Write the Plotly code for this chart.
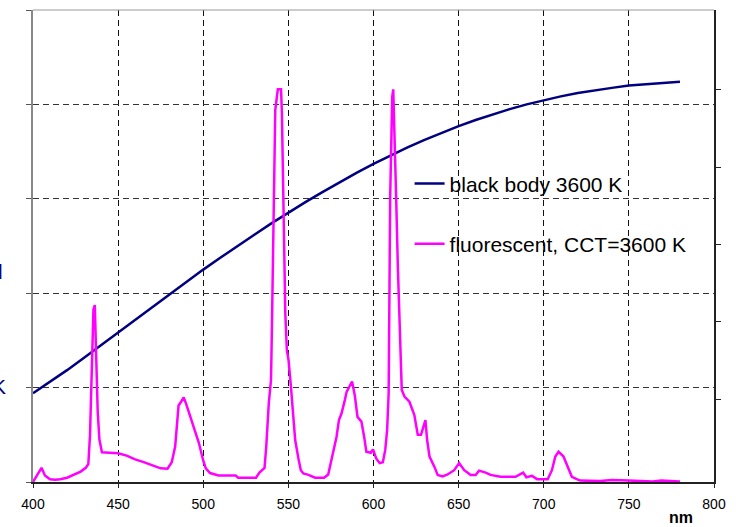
import plotly.graph_objects as go

# Wavelength grid (nm) and relative spectral power of a 3600 K black body
bb_wavelength = list(range(400, 790, 10))
bb_power = [18.8, 21.2, 23.7, 26.3, 29.0, 31.7, 34.4, 37.1, 39.8, 42.4,
            45.0, 47.5, 50.0, 52.4, 54.8, 57.1, 59.3, 61.4, 63.5, 65.5,
            67.4, 69.2, 70.9, 72.5, 74.0, 75.4, 76.7, 77.9, 79.0, 80.0,
            80.9, 81.7, 82.4, 83.0, 83.5, 84.0, 84.3, 84.6, 84.8]

# Fluorescent lamp spectrum (CCT 3600 K)
fl_wavelength = [400, 402, 405, 407, 410, 413, 416, 420, 424, 428,
                 431, 432.5, 433.5, 434.5, 435.5, 436.3, 437, 438, 439, 440.5,
                 445, 450, 455, 460, 465, 470, 475, 479, 481.5, 483.5,
                 484.5, 485.5, 487, 488.5, 490, 493.5, 497.5, 500, 501.5, 504,
                 509, 519, 520.5, 531, 533, 536, 537, 538.5, 539.8, 540.3,
                 541, 541.7, 542.3, 543.8, 545.7, 546.2, 546.8, 547.6, 548.2, 549.1,
                 550.1, 551.5, 552.6, 554, 555.9, 557.3, 558.8, 561.8, 565.7, 571,
                 573.4, 576.4, 578.3, 579.7, 581.2, 583.2, 584.2, 587.4, 589, 590.6,
                 592.9, 594.5, 595.8, 598.4, 599.7, 601.6, 603.6, 605.5, 606.9, 608,
                 608.9, 609.8, 610.4, 611, 611.6, 612.4, 613.3, 614.3, 615.3, 615.9,
                 616.6, 618.2, 621.1, 624, 626, 627.9, 630.5, 631.5, 632.9, 635.8,
                 637.7, 640.6, 643.5, 647.4, 650.3, 653.3, 657.1, 660, 662, 665.9,
                 668.8, 674.6, 683.4, 687.9, 689.8, 693.1, 696.1, 702.3, 704.8, 706.8,
                 708.7, 711.6, 714.6, 716.5, 719.4, 721.4, 733, 740, 750, 764,
                 769, 780]
fl_power = [0.0, 1.2, 3.0, 1.4, 0.6, 0.5, 0.6, 0.9, 1.5, 2.2,
            3.0, 3.8, 10.0, 27.0, 36.5, 37.5, 30.0, 15.0, 9.0, 6.3,
            6.2, 6.1, 5.6, 4.8, 4.2, 3.5, 2.9, 2.8, 4.2, 7.5,
            13.0, 16.2, 17.0, 17.9, 16.5, 12.5, 8.2, 4.5, 2.9, 1.9,
            1.4, 1.4, 0.9, 0.9, 2.0, 3.0, 7.5, 16.7, 21.6, 32.0,
            50.0, 67.5, 78.8, 83.2, 83.2, 78.1, 64.0, 44.2, 35.7, 28.0,
            25.8, 20.2, 14.6, 8.9, 5.0, 2.5, 1.8, 1.5, 0.9, 0.9,
            1.6, 6.8, 9.6, 13.1, 14.5, 17.4, 19.1, 21.3, 18.4, 13.8,
            12.8, 9.6, 6.4, 6.2, 6.9, 5.0, 4.0, 4.2, 6.8, 11.0,
            18.8, 60.4, 71.0, 81.6, 83.2, 74.6, 60.4, 45.6, 35.7, 26.5,
            19.5, 18.1, 17.0, 14.2, 10.0, 10.0, 13.1, 8.9, 5.4, 3.2,
            1.5, 1.2, 1.6, 2.5, 4.0, 2.5, 1.5, 1.5, 2.4, 2.0,
            1.5, 1.1, 1.1, 2.0, 1.0, 1.3, 0.6, 0.6, 2.5, 5.4,
            6.4, 5.4, 2.9, 1.1, 0.6, 0.3, 0.2, 0.4, 0.3, 0.1,
            0.3, 0.1]

x_ticks = [400, 450, 500, 550, 600, 650, 700, 750, 800]
y_ticks = [0, 20, 40, 60, 80, 100]
y2_ticks = [1, 2, 3, 4, 5]

NAVY = "#000080"
MAGENTA = "#FF00FF"
FONT = "Arial, Liberation Sans, sans-serif"

fig = go.Figure()
fig.add_trace(go.Scatter(
    x=bb_wavelength, y=bb_power, mode="lines", name="black body 3600 K",
    legendgroup="bb", line=dict(color=NAVY, width=2.5)))
fig.add_trace(go.Scatter(
    x=fl_wavelength, y=fl_power, mode="lines", name="fluorescent, CCT=3600 K",
    legendgroup="fl", line=dict(color=MAGENTA, width=2.5)))
# empty trace to bring up the secondary (right) axis
fig.add_trace(go.Scatter(x=[None], y=[None], yaxis="y2", showlegend=False,
                         hoverinfo="skip"))

fig.update_layout(
    width=736, height=527,
    margin=dict(l=33, r=17, t=10, b=45),
    paper_bgcolor="white", plot_bgcolor="white",
    font=dict(family=FONT, color="black"),
    xaxis=dict(range=[400, 800], tickvals=x_ticks, ticks="outside", ticklen=4,
               tickcolor="#222", showline=True, linecolor="#222", linewidth=2,
               showgrid=True, gridcolor="#111", gridwidth=1, griddash="6px,4px",
               zeroline=False, ticklabelstandoff=4,
               tickfont=dict(size=14, family=FONT, color="black")),
    yaxis=dict(range=[0, 100], tickvals=y_ticks, ticks="outside", ticklen=5,
               tickcolor="#555", showline=True, linecolor="#888", linewidth=2,
               showgrid=True, gridcolor="#333", gridwidth=1, griddash="6px,4px",
               zeroline=False, showticklabels=False),
    yaxis2=dict(overlaying="y", side="right", range=[-0.073, 6.032],
                tickvals=y2_ticks, ticks="outside", ticklen=5, tickcolor="#222",
                showline=True, linecolor="#222", linewidth=1.5, showgrid=False,
                zeroline=False, showticklabels=False),
    legend=dict(x=0.553, y=0.675, xanchor="left", yanchor="top",
                bgcolor="rgba(0,0,0,0)", borderwidth=0, traceorder="grouped",
                tracegroupgap=30, font=dict(size=21, family=FONT, color="black")),
    showlegend=True,
)

# white legend panel: hides the gridlines behind the legend, curves stay on top
fig.add_shape(type="rect", xref="paper", yref="paper", layer="between",
              x0=0.536, x1=0.969, y0=0.443, y1=0.708,
              fillcolor="white", line=dict(width=0))
# top frame line
fig.add_shape(type="line", xref="paper", yref="paper", x0=0, x1=1, y0=1, y1=1,
              line=dict(color="#999", width=1))

fig.add_annotation(text="<b>nm</b>", xref="paper", yref="paper", x=0.972, y=-0.098,
                   showarrow=False, font=dict(size=16, family=FONT, color="black"))
# axis title fragments at the left edge
fig.add_annotation(text="l", xref="paper", yref="paper", x=-0.041, y=0.445,
                   xanchor="right", yanchor="middle", showarrow=False,
                   font=dict(size=21, family=FONT, color=NAVY))
fig.add_annotation(text="K", xref="paper", yref="paper", x=-0.036, y=0.203,
                   xanchor="right", yanchor="middle", showarrow=False,
                   font=dict(size=21, family=FONT, color=NAVY))

fig.write_html("out.html")
